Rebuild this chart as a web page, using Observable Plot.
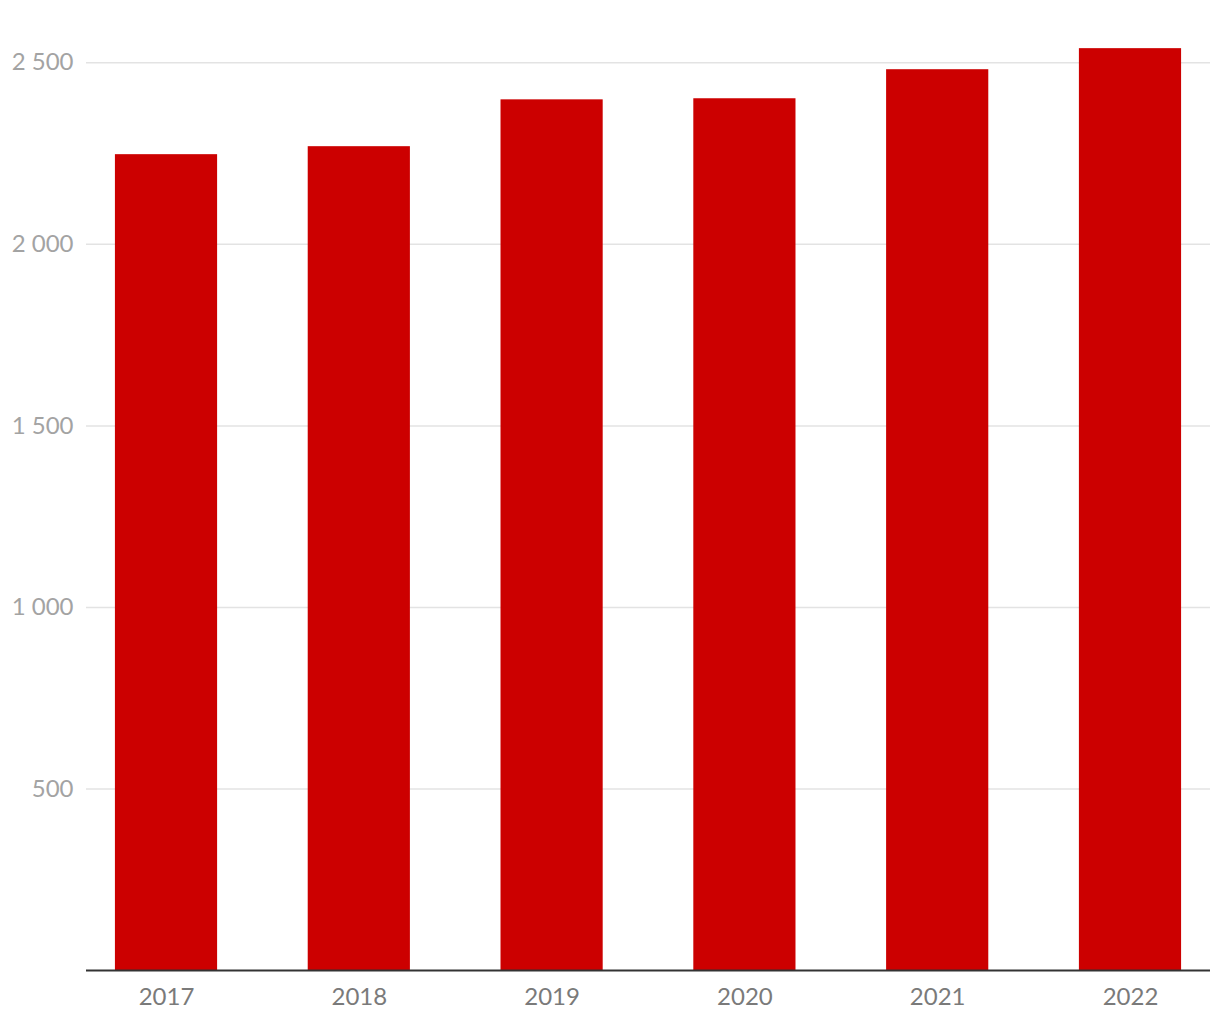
<!DOCTYPE html>
<html>
<head>
<meta charset="utf-8">
<script src="https://cdn.jsdelivr.net/npm/d3@7"></script>
<script src="https://cdn.jsdelivr.net/npm/@observablehq/plot@0.6"></script>
<style>
  html, body { margin: 0; padding: 0; background: #fff; }
  #chart { width: 1220px; height: 1020px; }
</style>
</head>
<body>
<div id="chart"></div>
<script>
const years = ["2017", "2018", "2019", "2020", "2021", "2022"];
const values = [2247, 2269, 2398, 2401, 2481, 2539];
const yTicks = [500, 1000, 1500, 2000, 2500];

const data = years.map((y, i) => ({year: y, value: values[i]}));
const fmt = d3.formatLocale({decimal: ",", thousands: " ", grouping: [3], currency: ["", ""]}).format(",");

const chart = Plot.plot({
  width: 1220,
  height: 1020,
  marginLeft: 86,
  marginRight: 10,
  marginTop: 26,
  marginBottom: 50,
  style: {fontFamily: "Lato, 'Open Sans', sans-serif", fontSize: "24px", background: "#fff"},
  x: {domain: years, paddingInner: 0.47, paddingOuter: 0.15, round: false, label: null},
  y: {domain: [0, 2600], label: null},
  marks: [
    Plot.gridY(yTicks, {stroke: "#e3e3e3", strokeOpacity: 1, strokeWidth: 1.5}),
    Plot.barY(data, {x: "year", y: "value", fill: "#cc0000"}),
    Plot.ruleY([0], {stroke: "#333", strokeWidth: 2}),
    Plot.axisY(yTicks, {tickSize: 0, tickPadding: 13, tickFormat: fmt, fill: "#a3a3a3", fontSize: 24, label: null}),
    Plot.axisX({tickSize: 0, tickPadding: 17, fill: "#7a7a7a", fontSize: 24, label: null})
  ]
});
document.getElementById("chart").appendChild(chart);
</script>
</body>
</html>
